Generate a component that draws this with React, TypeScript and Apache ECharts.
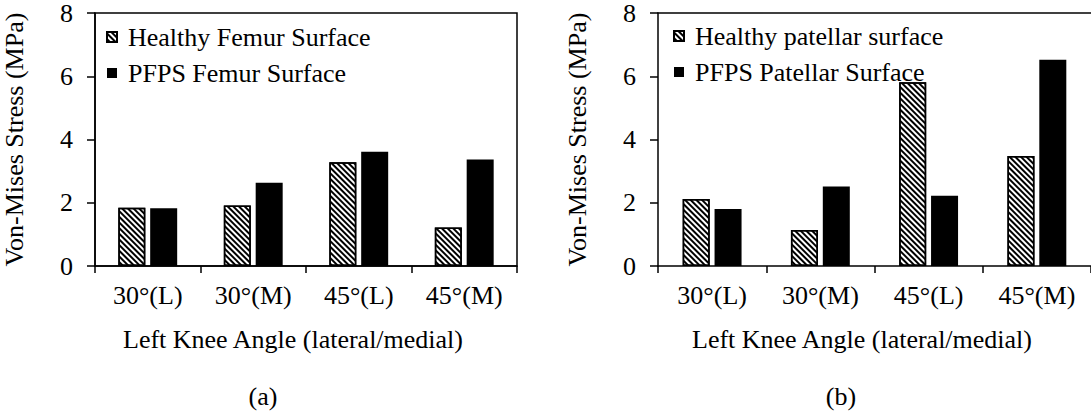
import React, { useEffect, useRef } from "react";
import * as echarts from "echarts";

const categories = ["30°(L)", "30°(M)", "45°(L)", "45°(M)"];
const femurHealthy = [1.84, 1.91, 3.28, 1.22];
const femurPFPS = [1.83, 2.63, 3.61, 3.37];
const patellaHealthy = [2.12, 1.14, 5.81, 3.48];
const patellaPFPS = [1.8, 2.51, 2.22, 6.52];
const yTicks = { min: 0, max: 8, interval: 2 };
const yName = "Von-Mises Stress (MPa)";
const xName = "Left Knee Angle (lateral/medial)";
const panelLabels = ["(a)", "(b)"];

const FONT = "'Liberation Serif', 'Times New Roman', serif";
const FS = 26;

const hatch = {
  symbol: "rect",
  symbolSize: 1,
  rotation: Math.PI / 4,
  dashArrayX: [1, 0],
  dashArrayY: [1.1, 1.3],
  color: "#000",
  backgroundColor: "#fff",
};

export default function App() {
  const ref = useRef<HTMLDivElement>(null);
  useEffect(() => {
    document.body.style.margin = "0";
    const chart = echarts.init(ref.current!, null, { renderer: "svg" });
    const grids = [
      { left: 88, top: 13, bottom: 146, width: 429, show: true, borderColor: "#000", borderWidth: 1.5, backgroundColor: "transparent" },
      { left: 658, top: 13, bottom: 146, width: 436, show: false },
    ];
    const xAxis: any[] = grids.map((_, i) => ({
      type: "category",
      gridIndex: i,
      data: categories,
      axisLine: { lineStyle: { color: "#000", width: 1.5 } },
      axisTick: { show: true, length: 7, lineStyle: { color: "#000", width: 1.5 } },
      axisLabel: { color: "#000", fontFamily: FONT, fontSize: FS, margin: 16 },
    }));
    xAxis.push({
      type: "category",
      gridIndex: 1,
      position: "top",
      data: categories,
      axisLine: { show: true, lineStyle: { color: "#000", width: 1.5 } },
      axisTick: { show: false },
      axisLabel: { show: false },
    });
    const yAxis = grids.map((_, i) => ({
      type: "value",
      gridIndex: i,
      min: yTicks.min,
      max: yTicks.max,
      interval: yTicks.interval,
      name: yName,
      nameLocation: "middle",
      nameRotate: 90,
      nameGap: 68,
      nameTextStyle: { color: "#000", fontFamily: FONT, fontSize: FS },
      splitLine: { show: false },
      axisLine: { show: true, lineStyle: { color: "#000", width: 1.5 } },
      axisTick: { show: true, length: 8, lineStyle: { color: "#000", width: 1.5 } },
      axisLabel: { color: "#000", fontFamily: FONT, fontSize: FS, margin: 22 },
    }));
    const mk = (name: string, data: number[], idx: number, hatched: boolean) => ({
      type: "bar",
      name,
      xAxisIndex: idx,
      yAxisIndex: idx,
      data,
      barWidth: 27,
      barGap: "18%",
      itemStyle: hatched
        ? { color: "#fff", decal: hatch, borderColor: "#000", borderWidth: 1.5 }
        : { color: "#000", borderColor: "#000", borderWidth: 0 },
    });
    const legendCommon = {
      orient: "vertical",
      itemWidth: 10,
      itemHeight: 10,
      itemGap: 10,
      padding: 0,
      icon: "rect",
      textStyle: { color: "#000", fontFamily: FONT, fontSize: FS, padding: [0, 0, 0, 6] },
    };
    const txt = (x: number, y: number, text: string) => ({
      type: "text",
      x,
      y,
      style: { text, fill: "#000", font: `${FS}px ${FONT}`, align: "center", verticalAlign: "middle" },
    });
    chart.setOption({
      animation: false,
      grid: grids,
      xAxis,
      yAxis,
      legend: [
        { ...legendCommon, left: 106, top: 24, data: ["Healthy Femur Surface", "PFPS Femur Surface"] },
        { ...legendCommon, left: 673, top: 23, data: ["Healthy patellar surface", "PFPS Patellar Surface"] },
      ],
      graphic: [
        txt(293, 339, xName),
        txt(263, 396, panelLabels[0]),
        txt(862, 339, xName),
        txt(841, 396, panelLabels[1]),
      ],
      series: [
        mk("Healthy Femur Surface", femurHealthy, 0, true),
        mk("PFPS Femur Surface", femurPFPS, 0, false),
        mk("Healthy patellar surface", patellaHealthy, 1, true),
        mk("PFPS Patellar Surface", patellaPFPS, 1, false),
      ],
    });
    return () => chart.dispose();
  }, []);
  return <div ref={ref} style={{ width: 1091, height: 412 }} />;
}
